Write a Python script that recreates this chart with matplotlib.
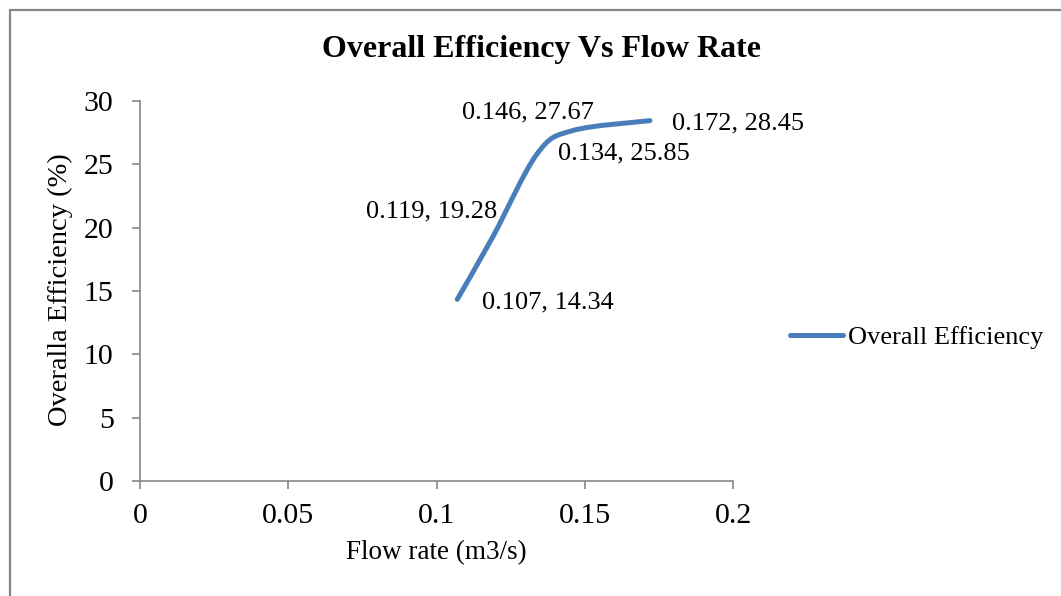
import numpy as np
import matplotlib
matplotlib.use("Agg")
import matplotlib.pyplot as plt
from matplotlib.path import Path
from matplotlib.patches import PathPatch, Rectangle
from matplotlib.lines import Line2D

flow = [0.107, 0.119, 0.134, 0.146, 0.172]
eff = [14.34, 19.28, 25.85, 27.67, 28.45]
labels = ["0.107, 14.34", "0.119, 19.28", "0.134, 25.85", "0.146, 27.67", "0.172, 28.45"]
# label offsets in points and alignment (ha)
offsets = [(18, -2, "left"), (3, 18, "right"), (15, 0, "left"), (15, 13, "right"), (16, -2, "left")]

xticks = [0, 0.05, 0.1, 0.15, 0.2]
xticklabels = ["0", "0.05", "0.1", "0.15", "0.2"]
yticks = [0, 5, 10, 15, 20, 25, 30]

blue = "#4A7EBB"
grey = "#868686"

plt.rcParams["font.family"] = ["Liberation Serif", "DejaVu Serif"]

fig = plt.figure(figsize=(10.61, 5.96), dpi=100)
fig.patches.append(Rectangle((10 / 1061, -0.1), 1.2, 1.1 - 10 / 596, transform=fig.transFigure,
                             fill=False, edgecolor=grey, linewidth=1.6))
ax = fig.add_axes([140 / 1061, 115 / 596, 593 / 1061, 380 / 596])

# smoothed line as Bezier segments (Excel-style smoothing)
pts = np.column_stack([flow, eff])
n = len(pts)
verts = [pts[0]]
codes = [Path.MOVETO]
for i in range(n - 1):
    p0 = pts[i - 1] if i > 0 else pts[i]
    p1 = pts[i]
    p2 = pts[i + 1]
    p3 = pts[i + 2] if i + 2 < n else pts[i + 1]
    verts += [p1 + (p2 - p0) / 6, p2 - (p3 - p1) / 6, p2]
    codes += [Path.CURVE4] * 3
ax.add_patch(PathPatch(Path(verts, codes), fill=False, edgecolor=blue, linewidth=3.6,
                       capstyle="round", joinstyle="round"))

for x, y, t, (dx, dy, ha) in zip(flow, eff, labels, offsets):
    ax.annotate(t, (x, y), xytext=(dx, dy), textcoords="offset points", ha=ha, va="center",
                fontsize=19)

ax.set_xlim(0, 0.2)
ax.set_ylim(0, 30)
ax.set_xticks(xticks)
ax.set_xticklabels(xticklabels)
ax.set_yticks(yticks)
ax.tick_params(axis="both", direction="out", length=6, width=1.2, color=grey, labelsize=21.5)
ax.tick_params(axis="x", pad=10)
ax.tick_params(axis="y", pad=13)
for s in ["top", "right"]:
    ax.spines[s].set_visible(False)
for s in ["left", "bottom"]:
    ax.spines[s].set_color(grey)
    ax.spines[s].set_linewidth(1.2)

fig.text(541 / 1061, 1 - 50 / 596, "Overall Efficiency Vs Flow Rate", ha="center", va="center",
         fontsize=23, fontweight="bold")
fig.text(60 / 1061, 1 - 290 / 596, "Overalla Efficiency (%)", ha="center", va="center",
         rotation=90, fontsize=20.5)
fig.text(436 / 1061, 1 - 553 / 596, "Flow rate (m3/s)", ha="center", va="center", fontsize=19.5)

handle = Line2D([], [], color=blue, linewidth=3.6, solid_capstyle="round")
fig.legend([handle], ["Overall Efficiency"], loc="center left",
           bbox_to_anchor=(790 / 1061, 1 - 337 / 596), frameon=False, fontsize=19,
           handlelength=2.0, handletextpad=0.2, borderpad=0, borderaxespad=0)

fig.savefig("out.png", dpi=100)
